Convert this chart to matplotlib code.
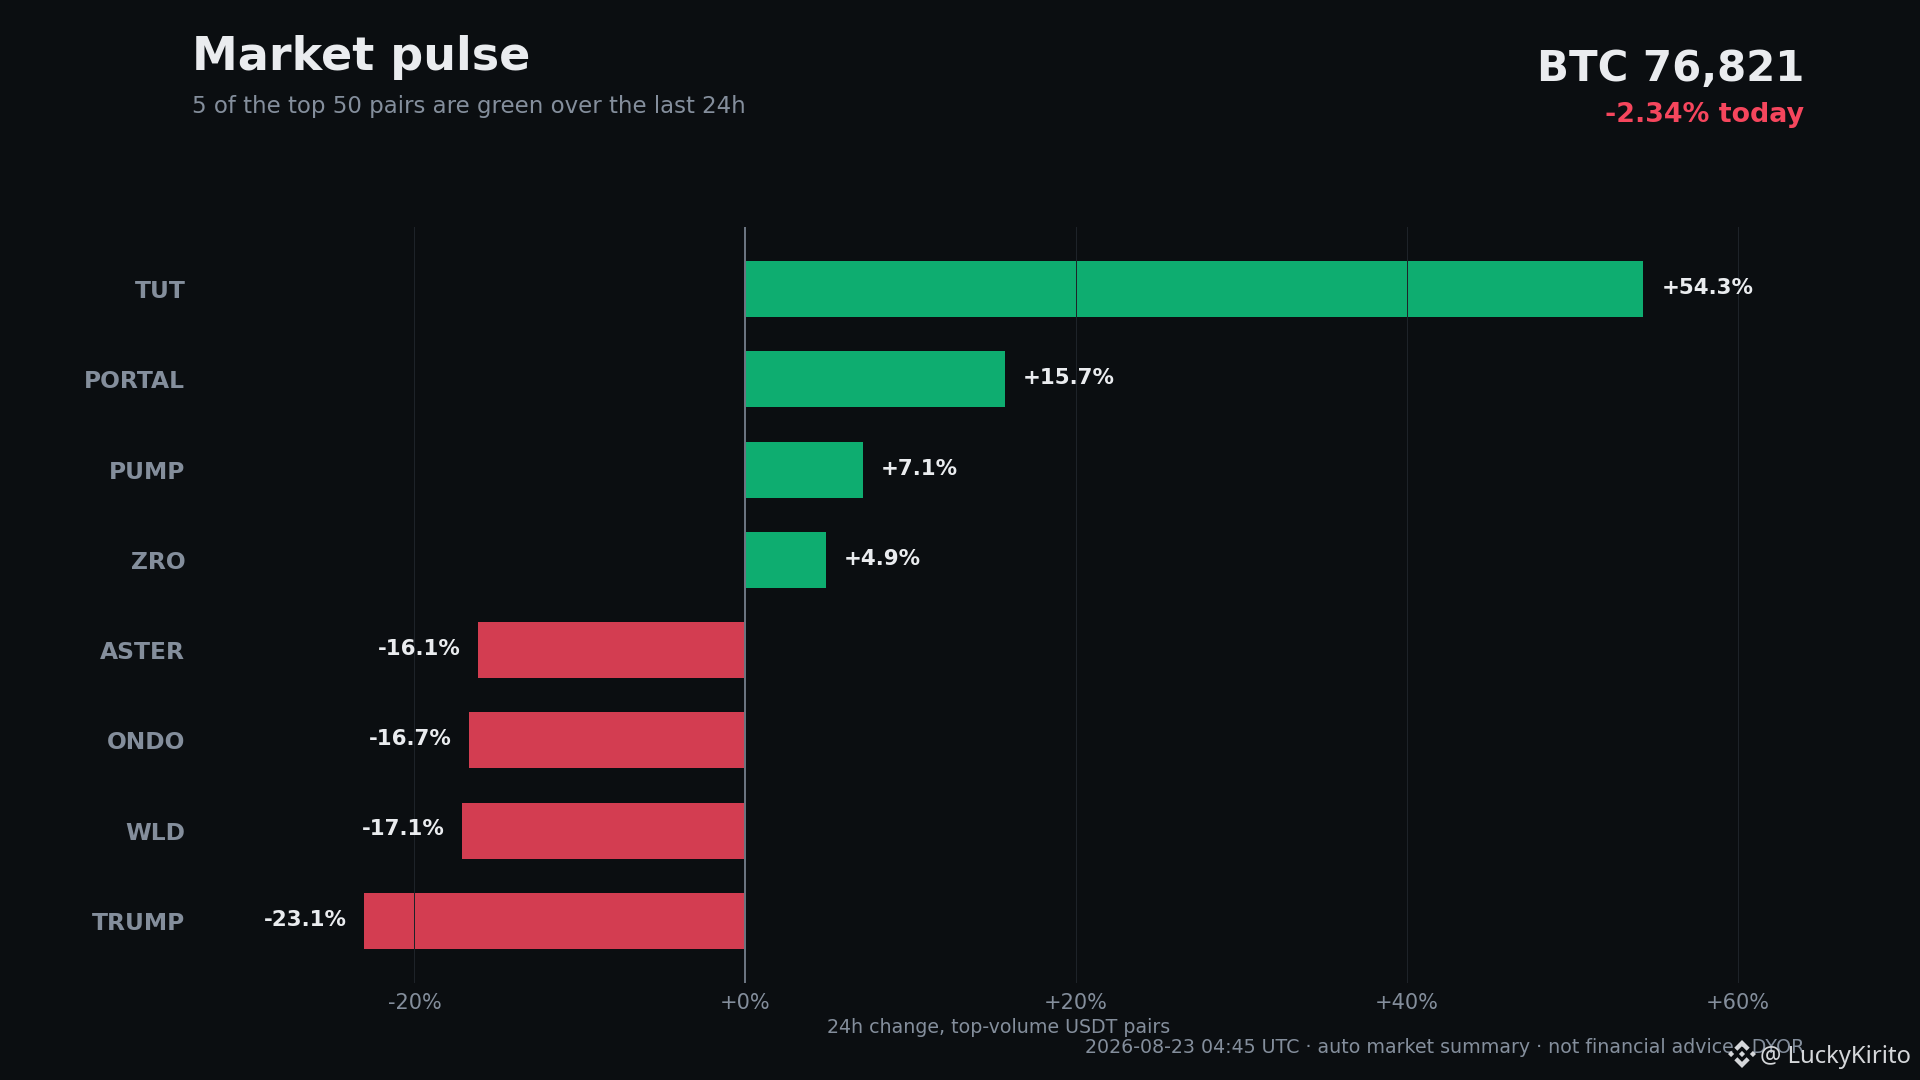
import matplotlib
matplotlib.use("Agg")
import matplotlib.pyplot as plt
from matplotlib.patches import Polygon

# values
symbols = ["TUT", "PORTAL", "PUMP", "ZRO", "ASTER", "ONDO", "WLD", "TRUMP"]
changes = [54.3, 15.7, 7.14, 4.9, -16.14, -16.7, -17.1, -23.05]
value_labels = ["+54.3%", "+15.7%", "+7.1%", "+4.9%", "-16.1%", "-16.7%", "-17.1%", "-23.1%"]
xtick_vals = [-20, 0, 20, 40, 60]
xtick_labels = ["-20%", "+0%", "+20%", "+40%", "+60%"]

BG = "#0b0e11"
GREEN = "#0ead70"
RED = "#d33d51"
GRAY = "#848e9c"
WHITE = "#eaecef"

W, H = 1920, 1080
fig = plt.figure(figsize=(16, 9), dpi=120, facecolor=BG)
ax = fig.add_axes([192 / W, 1 - 983 / H, (1804 - 192) / W, (983 - 227) / H], facecolor=BG)

colors = [GREEN if v > 0 else RED for v in changes]
ax.barh(range(len(symbols)), changes, height=0.62, color=colors, zorder=2)
ax.set_xlim(-33.45, 64.01)
ax.set_ylim(7.69, -0.69)

ax.grid(axis="x", color="#1e2329", lw=0.6, zorder=3)
ax.set_axisbelow(False)
ax.axvline(0, color="#6b7480", lw=1.2, zorder=4)
for s in ax.spines.values():
    s.set_visible(False)

ax.set_xticks(xtick_vals)
ax.set_xticklabels(xtick_labels, fontsize=12.5, color=GRAY)
ax.set_yticks(range(len(symbols)))
ax.set_yticklabels(symbols, fontsize=14, color=GRAY, fontweight="bold")
ax.tick_params(length=0, axis="both")
ax.tick_params(axis="x", pad=6)
ax.tick_params(axis="y", pad=4)

for i, (v, lab) in enumerate(zip(changes, value_labels)):
    off = 1.08 if v > 0 else -1.05
    ax.text(v + off, i - 0.012, lab, color=WHITE, fontsize=12.8, fontweight="bold",
            ha="left" if v > 0 else "right", va="center", zorder=5)


def px(x, y):
    return x / W, 1 - y / H


fig.text(*px(192, 70), "Market pulse", fontsize=27.6, fontweight="bold", color=WHITE, va="baseline")
fig.text(*px(192, 113), "5 of the top 50 pairs are green over the last 24h", fontsize=13.7, color=GRAY, va="baseline")
fig.text(*px(1804, 81), "BTC 76,821", fontsize=25.1, fontweight="bold", color=WHITE, ha="right", va="baseline")
fig.text(*px(1804, 122), "-2.34% today", fontsize=16.1, fontweight="bold", color="#f6465d", ha="right", va="baseline")
fig.text(*px(998.5, 1033), "24h change, top-volume USDT pairs", fontsize=11.4, color=GRAY, ha="center", va="baseline")
fig.text(*px(1804, 1053), "2026-08-23 04:45 UTC · auto market summary · not financial advice · DYOR",
         fontsize=11.4, color=GRAY, ha="right", va="baseline")

# watermark
fig.text(*px(1911, 1063), "@ LuckyKirito", fontsize=14.3, color="#d5d7da", ha="right", va="baseline",
         family="Noto Sans", zorder=10)
logo_cx, logo_cy, logo_r = 1742, 1054, 14
top_chevron = [(0, -1), (0.55, -0.45), (0.33, -0.23), (0, -0.56), (-0.33, -0.23), (-0.55, -0.45)]
bottom_chevron = [(x, -y) for x, y in top_chevron]
diamonds = [[(cx, -0.22), (cx + 0.22, 0), (cx, 0.22), (cx - 0.22, 0)] for cx in (-0.78, 0, 0.78)]
for shape in [top_chevron, bottom_chevron] + diamonds:
    pts = [px(logo_cx + x * logo_r, logo_cy + y * logo_r) for x, y in shape]
    fig.add_artist(Polygon(pts, closed=True, transform=fig.transFigure,
                           facecolor="#d5d7da", edgecolor="none", zorder=10))

fig.savefig("out.png", dpi=120, facecolor=BG)
